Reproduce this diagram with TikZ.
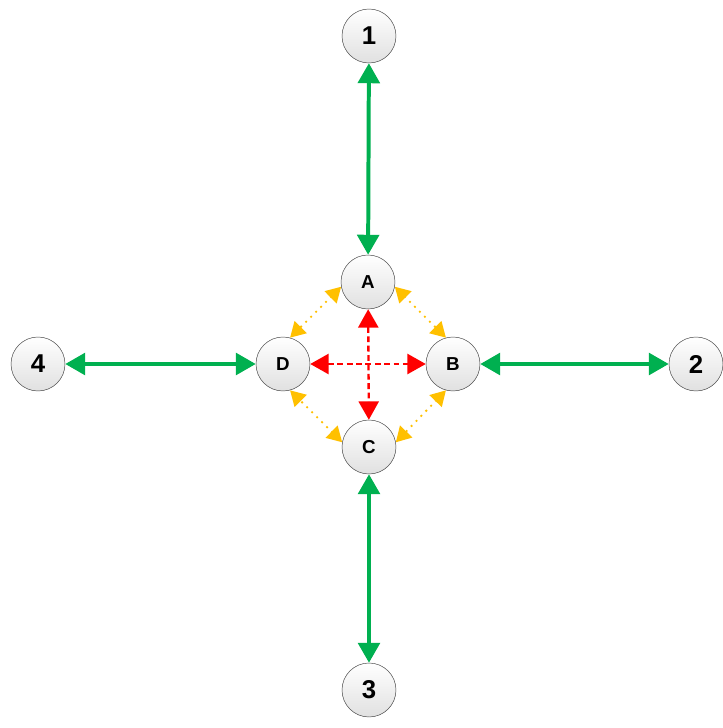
\documentclass[tikz,border=0pt]{standalone}
\usepackage{fontspec}
\setmainfont{Liberation Sans}
\usetikzlibrary{arrows.meta,positioning}
\definecolor{linkgreen}{RGB}{0,176,80}
\definecolor{ringgold}{RGB}{255,192,0}
\definecolor{crossred}{RGB}{255,0,0}
\begin{document}
\begin{tikzpicture}[>=Triangle,x=0.03cm,y=-0.03cm,
 numnode/.style={draw=black!75,circle,minimum size=1.62cm,inner sep=0pt,top color=white,bottom color=black!12,font=\fontsize{22}{24}\selectfont\bfseries},
 letnode/.style={draw=black!75,circle,minimum size=1.62cm,inner sep=0pt,top color=white,bottom color=black!12,font=\fontsize{16}{18}\selectfont\bfseries},
 link/.style={draw=linkgreen,line width=3.4pt,{Triangle[length=0.6cm,width=0.65cm]}-{Triangle[length=0.6cm,width=0.65cm]}},
 cross/.style={draw=crossred,line width=2pt,dash pattern=on 5pt off 3pt,{Triangle[length=0.55cm,width=0.6cm]}-{Triangle[length=0.55cm,width=0.6cm]}},
 ring/.style={draw=ringgold,line width=2.2pt,dash pattern=on 0pt off 6pt,line cap=round,{Triangle[length=0.45cm,width=0.5cm]}-{Triangle[length=0.45cm,width=0.5cm]}}]
\useasboundingbox (0,0) rectangle (722,728);
\node[numnode] (n1) at (369,36) {1};
\node[numnode] (n2) at (696,364) {2};
\node[numnode] (n3) at (369,690) {3};
\node[numnode] (n4) at (38,364) {4};
\node[letnode] (a) at (368,282) {A};
\node[letnode] (b) at (453,364) {B};
\node[letnode] (c) at (369,447) {C};
\node[letnode] (d) at (283,364) {D};
\draw[link] (n1) -- (a);
\draw[link] (b) -- (n2);
\draw[link] (c) -- (n3);
\draw[link] (n4) -- (d);
\draw[cross] (a) -- (c);
\draw[cross] (d) -- (b);
\draw[ring] (a.190) -- (d.75);
\draw[ring] (a.-10) -- (b.105);
\draw[ring] (b.-105) -- (c.10);
\draw[ring] (c.170) -- (d.-75);
\end{tikzpicture}
\end{document}
